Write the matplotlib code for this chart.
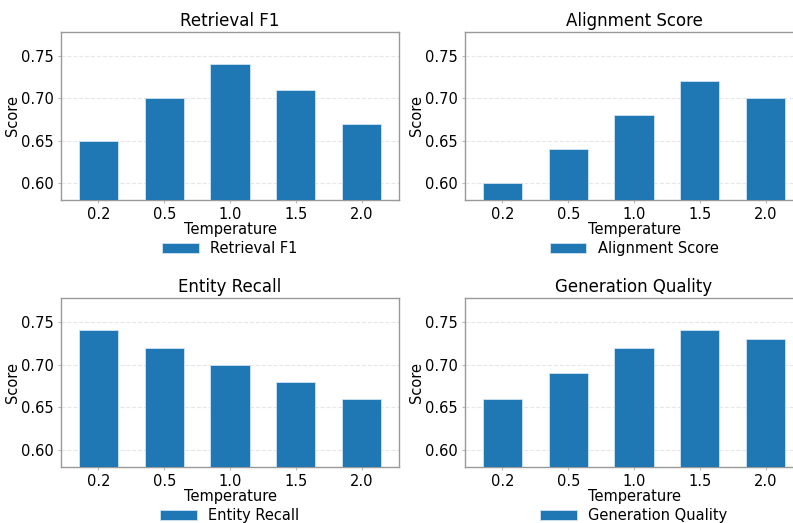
import matplotlib.pyplot as plt
import numpy as np

plt.rcParams['font.family'] = ['DejaVu Sans']

temps = ["0.2", "0.5", "1.0", "1.5", "2.0"]
retrieval_f1 = [0.65, 0.70, 0.74, 0.71, 0.67]
alignment = [0.60, 0.64, 0.68, 0.72, 0.70]
entity_recall = [0.74, 0.72, 0.70, 0.68, 0.66]
gen_quality = [0.66, 0.69, 0.72, 0.74, 0.73]

titles = ["Retrieval F1", "Alignment Score", "Entity Recall", "Generation Quality"]
series = [retrieval_f1, alignment, entity_recall, gen_quality]

W, H = 793, 523
fig = plt.figure(figsize=(W / 100, H / 100), dpi=100)

# axes boxes in pixels: left, top, width, height
boxes = [(61, 32, 338, 168), (465, 32, 338, 168),
         (61, 298, 338, 169), (465, 298, 338, 169)]

x = np.arange(len(temps))
for (l, t, w, h), title, vals in zip(boxes, titles, series):
    ax = fig.add_axes([l / W, 1 - (t + h) / H, w / W, h / H])
    ax.bar(x, vals, width=0.6, color="#1f77b4", edgecolor="#cfe3f3",
           linewidth=0.6, label=title, zorder=3)
    ax.set_xticks(x)
    ax.set_xticklabels(temps)
    ax.set_xlim(-0.57, 4.57)
    ax.set_ylim(0.58, 0.778)
    ax.set_yticks([0.60, 0.65, 0.70, 0.75])
    ax.set_title(title, fontsize=12, pad=4)
    ax.set_xlabel("Temperature", fontsize=10.5, labelpad=0)
    ax.set_ylabel("Score", fontsize=10.5, labelpad=1)
    ax.tick_params(labelsize=10.5, length=2, color="#bbbbbb", pad=3)
    ax.grid(axis="y", linestyle="--", color="#dddddd", linewidth=0.8, alpha=0.7, zorder=0)
    for s in ax.spines.values():
        s.set_color("#999999")
        s.set_linewidth(1.0)
    ax.legend(loc="upper center", bbox_to_anchor=(0.5, -0.165), frameon=False,
              fontsize=10.5, handlelength=2.5, handleheight=0.7)

fig.savefig("out.png", dpi=100)
